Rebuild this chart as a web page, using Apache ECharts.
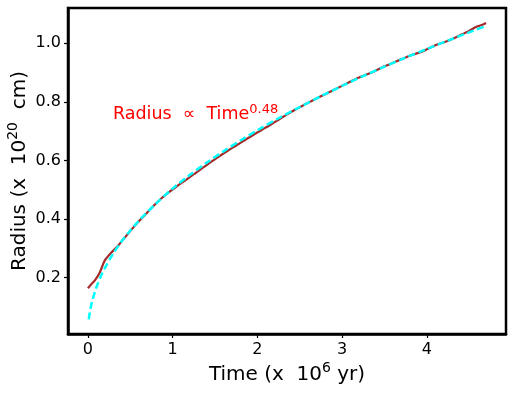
<!DOCTYPE html>
<html>
<head>
<meta charset="utf-8">
<script src="https://cdn.jsdelivr.net/npm/echarts@6/dist/echarts.min.js"></script>
<style>
  html, body { margin: 0; padding: 0; background: #fff; }
  #chart { width: 515px; height: 395px; }
</style>
</head>
<body>
<div id="chart"></div>
<script>
// measured radius (red, solid)
const dataTime = [0, 0.04, 0.08, 0.14, 0.2, 0.28, 0.35, 0.45, 0.55, 0.65, 0.75, 0.85, 0.95,
    1.05, 1.15, 1.25, 1.35, 1.45, 1.55, 1.65, 1.75, 1.85, 1.95, 2.05, 2.15, 2.25, 2.35, 2.45,
    2.6, 2.75, 2.9, 3.05, 3.2, 3.35, 3.5, 3.65, 3.8, 3.95, 4.1, 4.25, 4.4, 4.5, 4.58, 4.64, 4.7];
const dataRadius = [0.164, 0.178, 0.19, 0.218, 0.259, 0.287, 0.307, 0.342, 0.376, 0.407, 0.438, 0.466, 0.49,
    0.512, 0.532, 0.553, 0.574, 0.594, 0.614, 0.633, 0.651, 0.669, 0.687, 0.704, 0.721, 0.739, 0.757, 0.774,
    0.797, 0.819, 0.84, 0.862, 0.883, 0.9, 0.921, 0.939, 0.957, 0.972, 0.993, 1.008, 1.028, 1.042, 1.055, 1.061, 1.069];

// power-law fit (cyan, dashed)
const fitTime = [0.01, 0.03, 0.06, 0.1, 0.15, 0.2, 0.3, 0.4, 0.5, 0.6, 0.8, 1.0, 1.2, 1.4, 1.6, 1.8, 2.0,
    2.25, 2.5, 2.75, 3.0, 3.25, 3.5, 3.75, 4.0, 4.25, 4.5, 4.7];
const fitRadius = [0.058, 0.094, 0.13, 0.167, 0.203, 0.233, 0.283, 0.325, 0.361, 0.394, 0.452, 0.504, 0.55,
    0.592, 0.631, 0.668, 0.703, 0.744, 0.782, 0.819, 0.854, 0.888, 0.92, 0.951, 0.98, 1.009, 1.037, 1.059];

const xTicks = [0, 1, 2, 3, 4];
const yTicks = [0.2, 0.4, 0.6, 0.8, 1.0];

const font = 'DejaVu Sans';

const pairs = (xs, ys) => xs.map((x, i) => [x, ys[i]]);

// superscript-style rich text: main + raised small part
const titleRich = {
    b: {fontFamily: font, fontSize: 20, color: '#000', lineHeight: 28, verticalAlign: 'middle'},
    s: {fontFamily: font, fontSize: 14, color: '#000', lineHeight: 28, verticalAlign: 'middle', padding: [0, 0, 13, 0]}
};

const chart = echarts.init(document.getElementById('chart'), null, {renderer: 'canvas'});

chart.setOption({
    animation: false,
    grid: {
        left: 68,
        right: 9,
        top: 8,
        bottom: 61,
        outerBoundsMode: 'none',
        containLabel: false,
        show: true,
        borderColor: '#000',
        borderWidth: 2.5
    },
    xAxis: {
        type: 'value',
        min: -0.235,
        max: 4.935,
        splitLine: {show: false},
        axisLine: {show: true, onZero: false, lineStyle: {color: '#000', width: 2.5}},
        axisTick: {show: true, inside: false, length: 4, customValues: xTicks, lineStyle: {color: '#000', width: 1.2}},
        axisLabel: {customValues: xTicks, color: '#000', fontFamily: font, fontSize: 16, margin: 8},
        name: '{b|Time (x  10}{s|6}{b| yr)}',
        nameLocation: 'middle',
        nameGap: 27,
        nameMoveOverlap: false,
        nameTextStyle: {rich: titleRich}
    },
    yAxis: {
        type: 'value',
        min: 0.008,
        max: 1.12,
        splitLine: {show: false},
        axisLine: {show: true, onZero: false, lineStyle: {color: '#000', width: 2.5}},
        axisTick: {show: true, inside: false, length: 4, customValues: yTicks, lineStyle: {color: '#000', width: 1.2}},
        axisLabel: {
            customValues: yTicks, color: '#000', fontFamily: font, fontSize: 16, margin: 7,
            formatter: v => v.toFixed(1)
        },
        name: '{b|Radius (x  10}{s|20}{b|  cm)}',
        nameLocation: 'middle',
        nameRotate: 90,
        nameGap: 34,
        nameMoveOverlap: false,
        nameTextStyle: {rich: titleRich}
    },
    graphic: [{
        type: 'text',
        left: 113,
        top: 103,
        style: {
            text: '{b|Radius  ∝  Time}{s|0.48}',
            rich: {
                b: {fontFamily: font, fontSize: 17.5, fill: '#ff0000', lineHeight: 26, verticalAlign: 'middle'},
                s: {fontFamily: font, fontSize: 13, fill: '#ff0000', lineHeight: 26, verticalAlign: 'middle', padding: [0, 0, 10, 0]}
            }
        }
    }],
    series: [{
        name: 'data',
        type: 'line',
        data: pairs(dataTime, dataRadius),
        showSymbol: false,
        smooth: 0.3,
        lineStyle: {color: '#a52a2a', width: 2.2}
    }, {
        name: 'fit',
        type: 'line',
        data: pairs(fitTime, fitRadius),
        showSymbol: false,
        smooth: 0.3,
        lineStyle: {color: '#00ffff', width: 2.5, type: [7, 3.5]}
    }]
});
</script>
</body>
</html>
